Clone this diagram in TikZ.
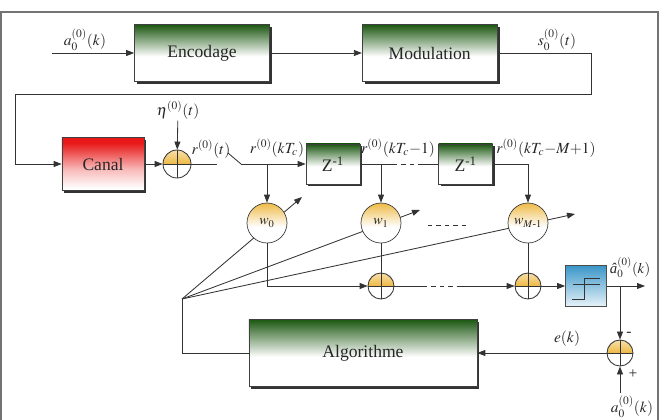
\documentclass[tikz,border=0pt]{standalone}
\usepackage{amsmath}
\usepackage{mathptmx}
\usepackage{fontspec}
\setmainfont{Liberation Serif}
\usepackage{xcolor}
\usepackage{tikz}
\usetikzlibrary{positioning,calc,arrows.meta,shadows}
\definecolor{figgreen}{RGB}{28,88,18}
\definecolor{figred}{RGB}{232,24,24}
\definecolor{figgold}{RGB}{238,186,70}
\definecolor{figblue}{RGB}{58,150,200}
\colorlet{figgoldlight}{figgold!45!white}
\colorlet{figredmid}{figred!30!white}
\colorlet{figbluelight}{figblue!12!white}
\pgfdeclareverticalshading{greenfade}{100bp}{color(0bp)=(white); color(47bp)=(white); color(75bp)=(figgreen); color(100bp)=(figgreen)}
\pgfdeclareverticalshading{redfade}{100bp}{color(0bp)=(white); color(27bp)=(white); color(45bp)=(figredmid); color(70bp)=(figred); color(100bp)=(figred)}
\pgfdeclareverticalshading{goldfade}{100bp}{color(0bp)=(white); color(45bp)=(white); color(75bp)=(figgold); color(100bp)=(figgold)}
\pgfdeclareverticalshading{halfgold}{100bp}{color(0bp)=(white); color(49.5bp)=(white); color(50.5bp)=(figgold); color(75bp)=(figgoldlight); color(100bp)=(figgoldlight)}
\pgfdeclareverticalshading{bluefade}{100bp}{color(0bp)=(figbluelight); color(25bp)=(figbluelight); color(75bp)=(figblue); color(100bp)=(figblue)}
\tikzset{
  figfont/.style={font=\rmfamily\fontsize{12.5}{14}\selectfont, text=black!85},
  figline/.style={draw=black!80, line width=0.6pt},
  figarrow/.style={figline, -{Triangle[length=2mm, width=1.5mm]}},
  figlabel/.style={font=\fontsize{11}{13}\selectfont, inner sep=1pt},
  figbox/.style={rectangle, draw=black!75, line width=0.5pt, inner sep=0pt,
    drop shadow={shadow xshift=0.6mm, shadow yshift=-0.6mm, fill=black!80, opacity=1}},
  figboxgreen/.style={figbox, shade, shading=greenfade},
  figboxred/.style={figbox, shade, shading=redfade},
  figboxblue/.style={rectangle, draw=black!70, line width=0.5pt, inner sep=0pt, shade, shading=bluefade},
  figweight/.style={circle, draw=black!75, line width=0.5pt, shade, shading=goldfade,
    minimum size=10mm, inner sep=0pt, font=\fontsize{10}{12}\selectfont},
  figsum/.style={circle, draw=black!80, line width=0.6pt, shade, shading=halfgold,
    minimum size=6.5mm, inner sep=0pt,
    path picture={\draw[black!80, line width=0.6pt]
      (path picture bounding box.north) -- (path picture bounding box.south)
      (path picture bounding box.west) -- (path picture bounding box.east);}},
  figstep/.style={path picture={
      \draw[black!80, line width=0.5pt] ([shift={(-3.4mm,-3.4mm)}]path picture bounding box.center)
        -- ++(2.9mm,0) -- ++(0,5.25mm) -- ++(4.1mm,0);
      \draw[black!80, line width=0.5pt] ([shift={(-3.2mm,0.3mm)}]path picture bounding box.center)
        -- ++(6.8mm,0);}},
}

\begin{document}
\begin{tikzpicture}[x=0.25mm, y=-0.25mm, figfont]
  \useasboundingbox (0,0) rectangle (660,420);
  % outer frame
  \draw[black!55, line width=1pt] (1,420) -- (1,12) -- (658,12) -- (658,420);

  % Emission: encoding and modulation
  \node[figboxgreen, minimum width=33.75mm, minimum height=14.25mm] (enc) at (202,53) {Encodage};
  \node[figboxgreen, minimum width=33.75mm, minimum height=14.25mm, right=23mm of enc] (mod) {Modulation};
  \coordinate (src) at (52,53);
  \draw[figarrow] (src) -- (enc);
  \draw[figarrow] (enc) -- (mod);
  \node[figlabel] (srclab) at (85,40) {$a_0^{(0)}(k)$};
  \node[figlabel] (modlab) at (557,40) {$s_0^{(0)}(t)$};

  % Channel and noise
  \node[figboxred, minimum width=20.5mm, minimum height=13.25mm] (canal) at (103,164) {Canal};
  \coordinate (loopr) at (591,94);
  \coordinate (loopl) at (15,94);
  \draw[figarrow] (mod.east) -| (loopr) -- (loopl) |- (canal.west);
  \node[figsum, minimum size=7mm] (noise) at (177,164) {};
  \node[figlabel] (etalab) at (178,110) {$\eta^{(0)}(t)$};
  \draw[figarrow] (etalab) -- (noise);
  \draw[figarrow] (canal) -- (noise);
  \coordinate (sw-a) at (217,164);
  \coordinate (sw-b) at (228,153);
  \coordinate (sw-c) at (241,164);
  \draw[figline] (noise) -- (sw-a);
  \draw[figline] (sw-b) -- (sw-c);
  \node[figlabel] (rlab) at (211,149) {$r^{(0)}(t)$};

  % Adaptation lines (under the weights)
  \coordinate (adapt) at (182,299);
  \coordinate (tip0) at (302,197);
  \coordinate (tip1) at (420,210);
  \coordinate (tip2) at (575,214);
  \foreach \t in {tip0,tip1,tip2}
    \draw[figarrow] (adapt) -- (\t);

  % Delay line
  \node[figboxgreen, minimum width=13.5mm, minimum height=10mm] (z1) at (333,164) {Z\textsuperscript{-1}};
  \node[figboxgreen, minimum width=13.5mm, minimum height=10mm, right=19.5mm of z1] (z2) {Z\textsuperscript{-1}};
  \draw[figarrow] (sw-c) -- (z1);
  \coordinate (dl-a) at (393,164);
  \coordinate (dl-b) at (421,164);
  \draw[figline] (z1) -- (dl-a);
  \draw[figline, dashed] (dl-a) -- (dl-b);
  \draw[figline] (dl-b) -- (z2);
  \node[figlabel] (rlab0) at (277,148) {$r^{(0)}(kT_c)$};
  \node[figlabel] (rlab1) at (398,148) {$r^{(0)}(kT_c{-}1)$};
  \node[figlabel] (rlab2) at (546,148) {$r^{(0)}(kT_c{-}M{+}1)$};

  % Weights
  \node[figweight] (w0) at (267,223) {$w_0$};
  \node[figweight] (w1) at (381,223) {$w_1$};
  \node[figweight] (w2) at (528,223) {$w_{M\text{-}1}$};
  \draw[figarrow] (w0 |- z1) -- (w0);
  \draw[figarrow] (w1 |- z1) -- (w1);
  \draw[figarrow] (z2.east) -| (w2);
  \coordinate (wd-a) at (428,225);
  \coordinate (wd-b) at (470,225);
  \draw[figline, dashed] (wd-a) -- (wd-b);

  % Summation and decision
  \node[figsum] (s1) at (381,286) {};
  \node[figsum] (s2) at (528,286) {};
  \draw[figarrow] (w0) |- (s1);
  \draw[figline] (w1) -- (s1);
  \draw[figline] (w2) -- (s2);
  \coordinate (sd-a) at (423,286);
  \coordinate (sd-b) at (457,286);
  \draw[figline] (s1) -- (sd-a);
  \draw[figline, dashed] (sd-a) -- (sd-b);
  \draw[figarrow] (sd-b) -- (s2);
  \node[figboxblue, figstep, minimum width=10.25mm, minimum height=10.25mm] (dec) at (586,286) {};
  \draw[figarrow] (s2) -- (dec);
  \coordinate (out) at (645,286);
  \draw[figarrow] (dec) -- (out);
  \node[figlabel, font=\fontsize{10.5}{12}\selectfont, anchor=south west, inner sep=0.5pt] (outlab) at (609,279) {$\text{\itshape â}_0^{(0)}(k)$};

  % Error and adaptation algorithm
  \node[figsum] (err) at (620,353) {};
  \draw[figarrow] (err |- dec) -- (err);
  \coordinate (ref) at (620,393);
  \draw[figarrow] (ref) -- (err);
  \node[figlabel] (minus) at (629,334) {-};
  \node[figlabel] (plus) at (633,374) {+};
  \node[figlabel] (reflab) at (632,407) {$a_0^{(0)}(k)$};
  \node[figboxgreen, minimum width=57mm, minimum height=16.75mm] (alg) at (363,353) {Algorithme};
  \draw[figarrow] (err) -- (alg);
  \node[figlabel] (elab) at (567,339) {$e(k)$};
  \draw[figline] (alg.west) -| (adapt);
\end{tikzpicture}
\end{document}
